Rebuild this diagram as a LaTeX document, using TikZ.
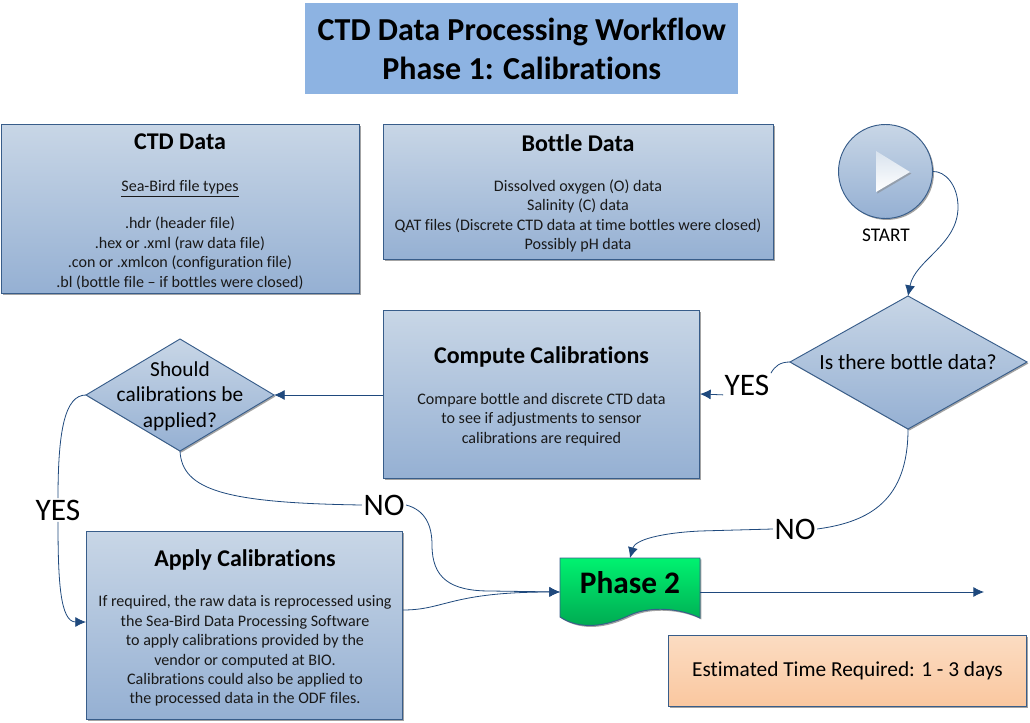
\documentclass[tikz,border=0pt]{standalone}
\usepackage{fontspec}
\setmainfont{Carlito}[Ligatures=NoCommon]
\usetikzlibrary{shadows,arrows.meta,shapes.geometric}
\definecolor{edgeblue}{HTML}{385D8A}
\definecolor{lineblue}{HTML}{1F497D}
\definecolor{boxtop}{HTML}{C8D6E6}
\definecolor{boxbot}{HTML}{95B0D3}
\definecolor{titlefill}{HTML}{8DB3E2}
\definecolor{esttop}{HTML}{FBDCC2}
\definecolor{estbot}{HTML}{FAC79F}
\definecolor{phasetop}{HTML}{00F270}
\definecolor{phasebot}{HTML}{00A650}
\tikzset{
  x=0.75pt,y=-0.75pt,
  shad/.style={drop shadow={shadow xshift=1.1pt,shadow yshift=-1.1pt,fill=black!45,opacity=0.8}},
  bluebox/.style={draw=edgeblue,line width=0.7pt,top color=boxtop,bottom color=boxbot,shad,inner sep=0pt},
  txt/.style={align=center,inner sep=0pt,text=black!90,font=\fontsize{12.05}{14.6}\selectfont},
  head/.style={inner sep=0pt,font=\fontsize{18}{20}\selectfont\bfseries},
  flow/.style={draw=lineblue,line width=0.6pt,-{Latex[length=8pt,width=7.5pt]}},
  plain/.style={draw=lineblue,line width=0.6pt},
  biglabel/.style={fill=white,inner sep=1pt,font=\fontsize{23.5}{25}\selectfont},
}
\newcommand{\rbox}[6]{\node[bluebox,rectangle,minimum width=#5*0.75pt-#3*0.75pt-0.7pt,minimum height=#6*0.75pt-#4*0.75pt-0.7pt,anchor=north west] (#1) at (#3,#4) {#2};}
\begin{document}
\begin{tikzpicture}
\useasboundingbox (0,0) rectangle (1030,723);
% title
\node[draw=none,fill=titlefill,minimum width=324.75pt,minimum height=68.25pt,anchor=north west,inner sep=0pt,align=center,font=\fontsize{24}{29}\selectfont\bfseries] (title) at (305,3) {CTD Data Processing Workflow\\Phase 1: Calibrations};
% boxes
\rbox{ctd}{}{1}{124}{360}{294}
\rbox{bottle}{}{383}{124}{774}{260}
\rbox{compute}{}{383}{310}{700}{479}
\rbox{apply}{}{86}{531}{403}{720}
\node[draw=edgeblue,line width=0.7pt,top color=esttop,bottom color=estbot,shad,minimum width=268.5pt,minimum height=53.5pt,anchor=north west,inner sep=0pt,font=\fontsize{16}{18}\selectfont] (est) at (668,635) {Estimated Time Required: 1 - 3 days};
% texts in boxes
\node[head] (ctdh) at (180,142) {CTD Data};
\node[txt] (ctdt) at (180,235) {\underline{Sea-Bird file types}\\[13pt].hdr (header file)\\.hex or .xml (raw data file)\\.con or .xmlcon (configuration file)\\.bl (bottle file – if bottles were closed)};
\node[head] (both) at (578,143) {Bottle Data};
\node[txt] (bott) at (578,216) {Dissolved oxygen (O) data\\Salinity (C) data\\QAT files (Discrete CTD data at time bottles were closed)\\Possibly pH data};
\node[head] (comph) at (541.5,357) {Compute Calibrations};
\node[txt] (compt) at (541.5,419.5) {Compare bottle and discrete CTD data\\to see if adjustments to sensor\\calibrations are required};
\node[head] (apph) at (245,559.5) {Apply Calibrations};
\node[txt] (appt) at (245,651) {If required, the raw data is reprocessed using\\the Sea-Bird Data Processing Software\\to apply calibrations provided by the\\vendor or computed at BIO.\\Calibrations could also be applied to\\the processed data in the ODF files.};
% decisions
\path[bluebox] (86,395) -- (180,339) -- (274,395) -- (180,451) -- cycle;
\coordinate (shouldL) at (86,395);\coordinate (shouldR) at (274,395);\coordinate (shouldB) at (180,451);
\node[align=center,inner sep=0pt,font=\fontsize{16}{19.1}\selectfont] (should) at (180,396) {Should\\calibrations be\\applied?};
\path[bluebox] (790,362) -- (908,296) -- (1027,362) -- (908,429) -- cycle;
\coordinate (isL) at (790,362);\coordinate (isT) at (908,296);\coordinate (isB) at (908,429);
\node[inner sep=0pt,font=\fontsize{16.2}{18}\selectfont] (is) at (908,362) {Is there bottle data?};
% start
\node[bluebox,circle,minimum size=70.5pt] (start) at (885.5,171.5) {};
\path[top color=boxtop!70,bottom color=white,drop shadow={shadow xshift=1pt,shadow yshift=-1.2pt,fill=black!50}] (876,151) -- (910,172) -- (876,192) -- cycle;
\node[inner sep=0pt,font=\fontsize{14.5}{16}\selectfont] (startl) at (886,235) {START};
% phase 2
\path[draw=edgeblue,line width=0.7pt,top color=phasetop,bottom color=phasebot,shad]
 (560,558) -- (700,558) -- (700,618) .. controls (680,608) and (650,606) .. (630,615) .. controls (605,627) and (580,630) .. (560,617) -- cycle;
\node[inner sep=0pt,font=\fontsize{23.5}{25}\selectfont\bfseries] (phase) at (630,583) {Phase 2};
\coordinate (p2L) at (560,592);\coordinate (p2R) at (700,592);\coordinate (p2T) at (630,558);\coordinate (endp) at (984,592);
% labels
\node[biglabel] (yes1) at (747,385) {YES};
\node[biglabel] (no1) at (795,529) {NO};
\node[biglabel] (no2) at (384,505) {NO};
\node[biglabel] (yes2) at (58,510) {YES};
% connectors
\draw[flow] (start.east) .. controls (945,171) and (958,185) .. (958,207) .. controls (958,245) and (915,260) .. (isT);
\draw[plain] (isL) .. controls (780,362) and (775,366) .. (yes1.north east);
\draw[flow] (yes1.south west) ++(0,-2) -- (700,394);
\draw[flow] (compute.west |- shouldR) -- (shouldR);
\draw[plain] (shouldL) .. controls (65,395) and (58,430) .. (yes2.north);
\draw[flow] (yes2.south) .. controls (58,580) and (60,622) .. (86,622);
\draw[plain] (shouldB) .. controls (182,490) and (225,503) .. (no2.west);
\draw[flow] (no2.east) .. controls (425,510) and (432,525) .. (432,545) .. controls (432,578) and (450,591) .. (490,591) -- (p2L);
\draw[flow] (403,610) .. controls (445,610) and (450,592) .. (p2L);
\draw[plain] (isB) .. controls (908,500) and (870,522) .. (no1.east);
\draw[flow] (no1.west) -- (700,531) .. controls (660,533) and (635,540) .. (p2T);
\draw[flow] (p2R) -- (endp);
\end{tikzpicture}
\end{document}
